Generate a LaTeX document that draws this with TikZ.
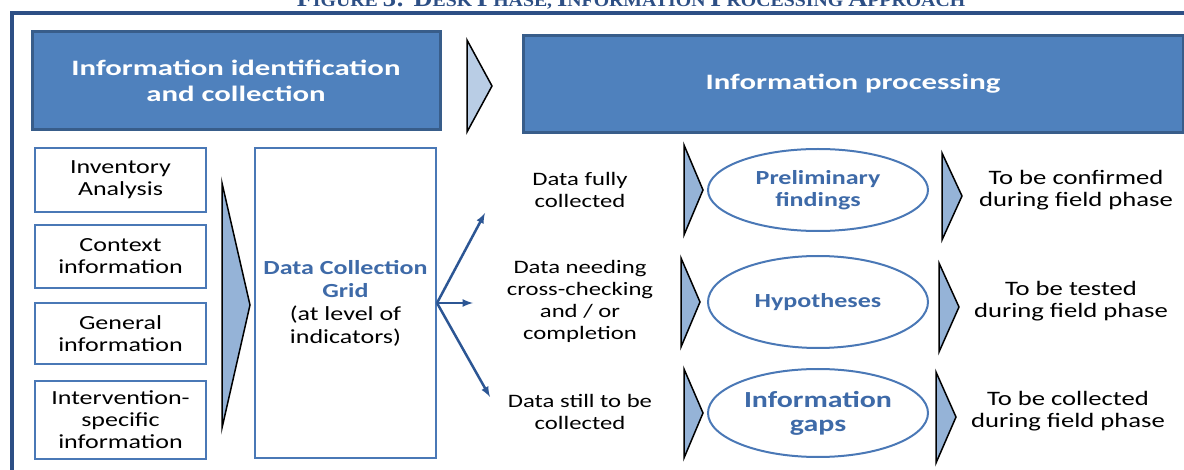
\documentclass[tikz,border=0pt]{standalone}
\usepackage{fontspec}
\setmainfont{Carlito}[FakeStretch=1.3]
\newfontfamily\headfont{Carlito}[FakeStretch=1.4]
\newfontfamily\ttlfont{Liberation Serif}[FakeStretch=1.1]
\usepackage{tikz}
\usetikzlibrary{positioning, shapes.geometric}

\definecolor{hdblue}{RGB}{79,129,189}
\definecolor{hdline}{RGB}{56,93,138}
\definecolor{boxline}{RGB}{74,120,182}
\definecolor{txtblue}{RGB}{62,106,168}
\definecolor{arrblue}{RGB}{44,86,148}
\definecolor{chevlight}{RGB}{185,205,229}
\definecolor{chevfill}{RGB}{149,179,215}
\definecolor{framecol}{RGB}{45,79,133}

\newcommand{\smcap}[2]{{\fontsize{24}{24}\selectfont #1}{\fontsize{18}{18}\selectfont #2}}

\begin{document}
\begin{tikzpicture}[x=1pt,y=-1pt,node distance=14pt,
    head/.style={draw=hdline,line width=3pt,fill=hdblue,text=white,align=center,
      font=\headfont\fontsize{22}{26}\selectfont\bfseries},
    inbox/.style={draw=boxline,line width=2pt,minimum width=171pt,align=center,
      font=\fontsize{20}{22}\selectfont},
    plain/.style={align=center,font=\fontsize{19}{22}\selectfont},
    far/.style={align=center,font=\fontsize{20.5}{22.5}\selectfont},
    result/.style={ellipse,draw=boxline,line width=2pt,minimum width=220pt,
      text=txtblue,align=center,font=\fontsize{20}{22}\selectfont\bfseries},
    chev/.style={draw=black,line width=1.5pt,line join=miter,fill=chevfill},
    split/.style={-latex,draw=arrblue,line width=2.5pt}]
  \useasboundingbox (0,0) rectangle (1184,470);

  % title and frame
  \node[anchor=base,text=framecol,font=\ttlfont\fontsize{18}{18}\selectfont\bfseries,
    inner sep=0pt] (title) at (631,7)
    {\smcap{F}{IGURE} \smcap{3: D}{ESK} \smcap{P}{HASE}, \smcap{I}{NFORMATION}
     \smcap{P}{ROCESSING} \smcap{A}{PPROACH}};
  \draw[framecol,line width=4pt] (12,470) -- (12,13) -- (1184,13);

  % phases
  \node[head,minimum width=408pt,minimum height=98pt] (collect) at (236,81)
    {Information identification\\and collection};
  \node[head,minimum width=660pt,minimum height=97pt] (process) at (853,84)
    {Information processing};
  \draw[chev,fill=chevlight] (467,40) -- (492,86) -- (467,132) -- cycle;

  % sources
  \node[inbox,minimum height=64pt] (inv) at (120.5,180) {Inventory\\Analysis};
  \node[inbox,minimum height=63pt,below=11pt of inv] (ctx) {Context\\information};
  \node[inbox,minimum height=61pt,below=13pt of ctx] (gen) {General\\information};
  \node[inbox,minimum height=78pt,below=15pt of gen] (spec)
    {Intervention-\\specific\\information};
  \draw[chev] (222,183) -- (250,305) -- (222,428) -- cycle;

  % grid
  \node[inbox,minimum width=181pt,minimum height=310pt,font=\fontsize{20}{23}\selectfont]
    (grid) at (345.5,303)
    {\textcolor{txtblue}{\bfseries Data Collection}\\\textcolor{txtblue}{\bfseries Grid}\\(at level of\\indicators)};
  \coordinate (upper) at (485,213);
  \coordinate (mid) at (473,303);
  \coordinate (lower) at (490,397);
  \draw[split] (grid.east) -- (upper);
  \draw[split] (grid.east) -- (mid);
  \draw[split] (grid.east) -- (lower);

  % data status
  \node[plain] (full) at (580,190) {Data fully\\collected};
  \node[plain] (check) at (580,301) {Data needing\\cross-checking\\and / or\\completion};
  \node[plain] (still) at (580,412) {Data still to be\\collected};

  \draw[chev] (684,145) -- (703,190) -- (684,235) -- cycle;
  \draw[chev] (681,258) -- (700,302) -- (681,347) -- cycle;
  \draw[chev] (684,369) -- (703,413) -- (684,458) -- cycle;

  % outcomes
  \node[result,minimum height=82pt] (prelim) at (818,190) {Preliminary\\findings};
  \node[result,minimum height=92pt] (hypo) at (818,302) {Hypotheses};
  \node[result,minimum height=88pt,font=\fontsize{23}{24}\selectfont\bfseries] (gaps)
    at (818,413) {Information\\gaps};

  \draw[chev] (942,153) -- (962,196) -- (942,240) -- cycle;
  \draw[chev] (939,263) -- (959,307) -- (939,352) -- cycle;
  \draw[chev] (936,372) -- (956,417) -- (936,463) -- cycle;

  % field phase
  \node[far] (confirm) at (1076,190) {To be confirmed\\during field phase};
  \node[far] (tested) at (1071,301) {To be tested\\during field phase};
  \node[far] (tocollect) at (1068,411) {To be collected\\during field phase};
\end{tikzpicture}
\end{document}
